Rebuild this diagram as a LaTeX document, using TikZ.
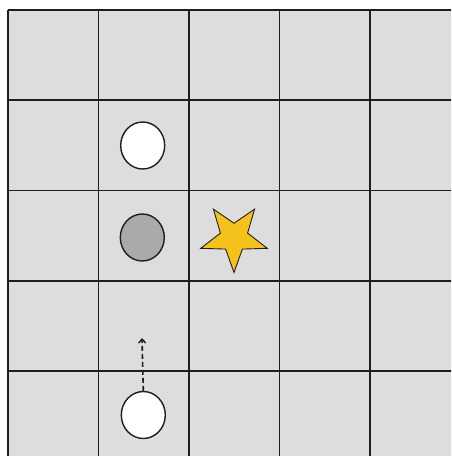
\documentclass[tikz,border=0pt]{standalone}
\usetikzlibrary{shapes.geometric,arrows.meta}
\definecolor{cellgray}{HTML}{DDDDDD}
\definecolor{gridline}{HTML}{1E1E1E}
\definecolor{tokgray}{HTML}{AAAAAA}
\definecolor{staryellow}{HTML}{F5C21B}
\tikzset{
  gridln/.style={draw=gridline, line width=1.8pt},
  token/.style={ellipse, draw=gridline, line width=1.4pt, minimum width=44pt, minimum height=47pt, inner sep=0pt},
  goal/.style={star, star points=5, star point ratio=2.45, shape border rotate=180, minimum size=70pt, inner sep=0pt, fill=staryellow, draw=gridline, line width=0.9pt},
  moveline/.style={draw=gridline, line width=1.6pt, dash pattern=on 5pt off 3pt, -{Straight Barb[length=4pt,width=7pt,line width=1.4pt]}}
}
\begin{document}
\begin{tikzpicture}[x=1pt,y=-1pt]
\useasboundingbox (0,0) rectangle (451,456);
\fill[white] (0,0) rectangle (451,456);
\begin{scope}
\clip (0,0) rectangle (451,456);
\fill[cellgray] (8,10) rectangle (470,470);
\foreach \i in {0,...,5} {
  \draw[gridln] (8+90.5*\i,10) -- (8+90.5*\i,470);
  \draw[gridln] (8,10+90.25*\i) -- (470,10+90.25*\i);
}
\end{scope}
\node[token, fill=white] (w1) at (142.7,145.5) {};
\node[token, fill=tokgray] (g1) at (142.3,237.5) {};
\node[goal] (s1) at (234,237.5) {};
\node[token, fill=white] (w2) at (143.3,415) {};
\coordinate (tip) at (142,338);
\draw[moveline] (w2.north) -- (tip);
\end{tikzpicture}
\end{document}
